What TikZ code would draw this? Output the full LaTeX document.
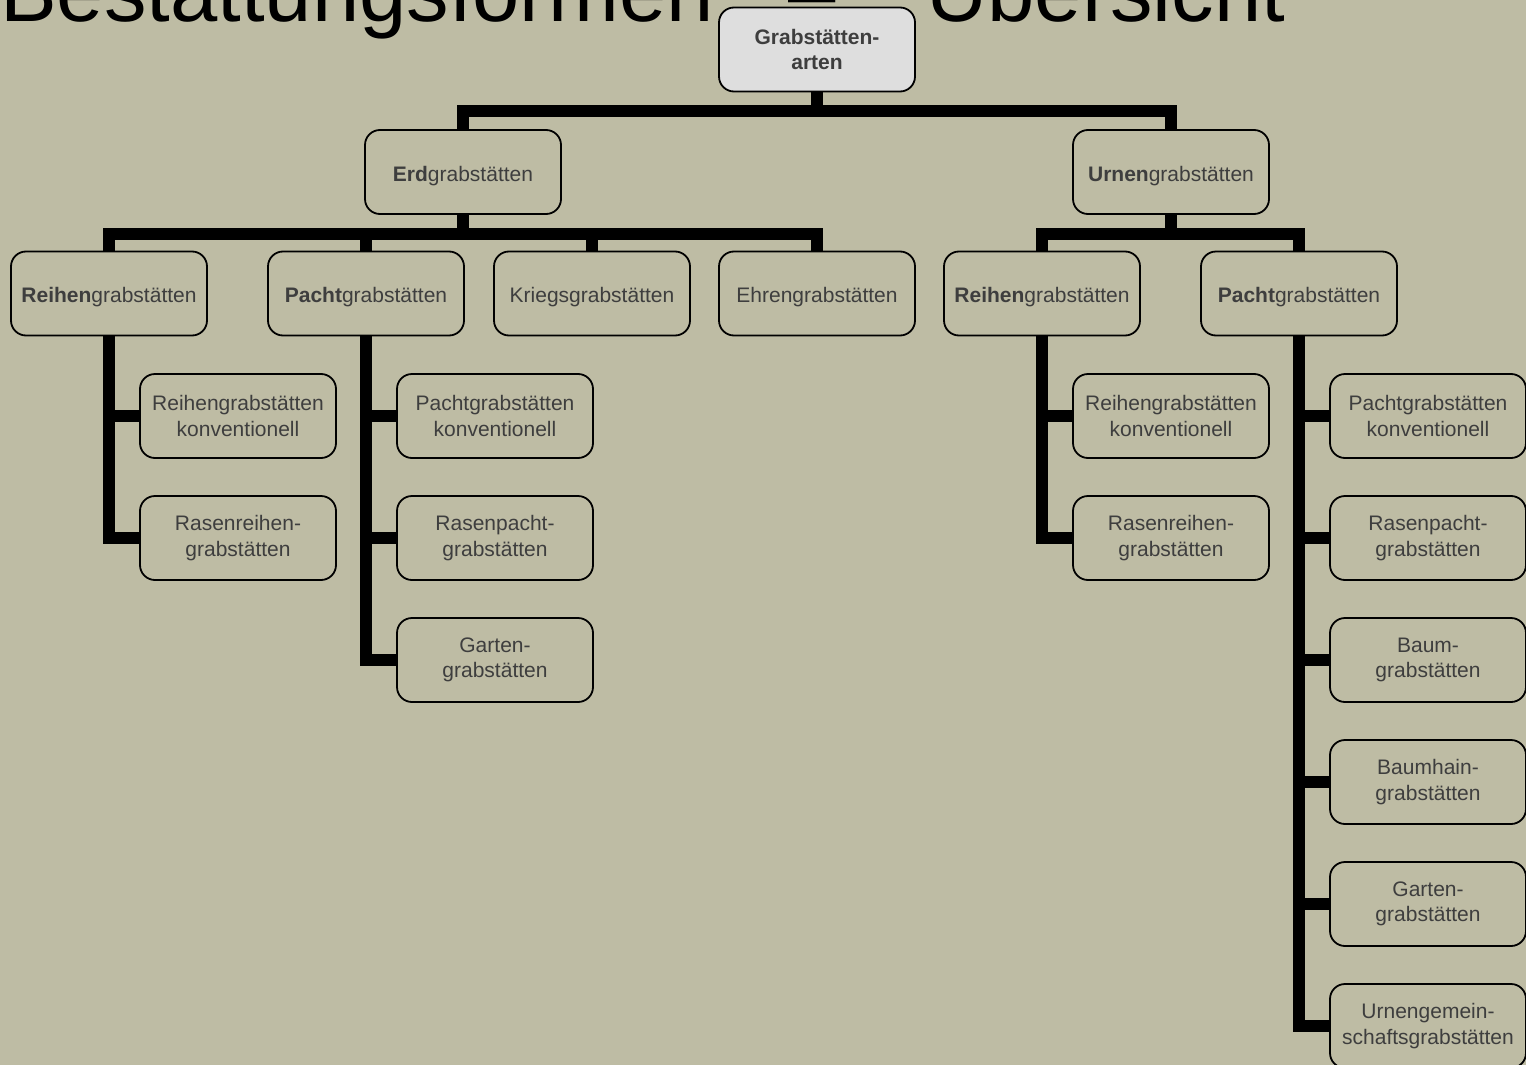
\documentclass[tikz,border=0pt]{standalone}
\usepackage{fontspec}
\setmainfont{Liberation Sans}
\definecolor{bgc}{RGB}{190,188,164}
\definecolor{txt}{RGB}{62,62,62}
\definecolor{topfill}{RGB}{222,222,222}
\begin{document}
\begin{tikzpicture}[x=1pt,y=-1pt,
  box/.style={draw=black, line width=1.8pt, rounded corners=15pt, minimum width=196pt, minimum height=84pt,
    text=txt, align=center, inner sep=2pt, font=\fontsize{21}{25.5}\selectfont},
  onebox/.style={box, text height=18.4pt, text depth=0pt},
  topbox/.style={box, fill=topfill, font=\fontsize{21}{25.5}\selectfont\bfseries},
  conn/.style={line width=12pt, draw=black, line join=miter},
  titletext/.style={inner sep=0pt, text=black, font=\fontsize{85}{90}\selectfont}]
\clip (0,0) rectangle (1526,1065);
\fill[bgc] (0,0) rectangle (1526,1065);
% title
\node[titletext, anchor=base west] (t1) at (0,22) {Bestattungsformen};
\node[titletext, anchor=base] (t2) at (812,22) {–};
\node[titletext, anchor=base west] (t3) at (926,22) {Übersicht};
% nodes
\node[topbox] (top) at (817,49.5) {Grabstätten-\\arten};
\node[onebox] (erd) at (463,172) {\textbf{Erd}grabstätten};
\node[onebox] (urn) at (1171,172) {\textbf{Urnen}grabstätten};
\node[onebox] (reiL) at (109,293.5) {\textbf{Reihen}grabstätten};
\node[onebox] (paL) at (366,293.5) {\textbf{Pacht}grabstätten};
\node[onebox] (krieg) at (592,293.5) {Kriegsgrabstätten};
\node[onebox] (ehren) at (817,293.5) {Ehrengrabstätten};
\node[onebox] (reiR) at (1042,293.5) {\textbf{Reihen}grabstätten};
\node[onebox] (paR) at (1299,293.5) {\textbf{Pacht}grabstätten};
% level 3 left Reihen
\node[box] (rl1) at (238,416) {Reihengrabstätten\\konventionell};
\node[box] (rl2) at (238,538) {Rasenreihen-\\grabstätten};
% level 3 left Pacht
\node[box] (pl1) at (495,416) {Pachtgrabstätten\\konventionell};
\node[box] (pl2) at (495,538) {Rasenpacht-\\grabstätten};
\node[box] (pl3) at (495,660) {Garten-\\grabstätten};
% level 3 right Reihen
\node[box] (rr1) at (1171,416) {Reihengrabstätten\\konventionell};
\node[box] (rr2) at (1171,538) {Rasenreihen-\\grabstätten};
% level 3 right Pacht
\node[box] (pr1) at (1428,416) {Pachtgrabstätten\\konventionell};
\node[box] (pr2) at (1428,538) {Rasenpacht-\\grabstätten};
\node[box] (pr3) at (1428,660) {Baum-\\grabstätten};
\node[box] (pr4) at (1428,782) {Baumhain-\\grabstätten};
\node[box] (pr5) at (1428,904) {Garten-\\grabstätten};
\node[box] (pr6) at (1428,1026) {Urnengemein-\\schaftsgrabstätten};
% connectors
\foreach \c in {erd,urn}{\draw[conn] (top.south) -- ++(0,19) -| (\c.north);}
\foreach \c in {reiL,paL,krieg,ehren}{\draw[conn] (erd.south) -- ++(0,19) -| (\c.north);}
\foreach \c in {reiR,paR}{\draw[conn] (urn.south) -- ++(0,19) -| (\c.north);}
\foreach \c in {rl1,rl2}{\draw[conn] (reiL.south) |- (\c.west);}
\foreach \c in {pl1,pl2,pl3}{\draw[conn] (paL.south) |- (\c.west);}
\foreach \c in {rr1,rr2}{\draw[conn] (reiR.south) |- (\c.west);}
\foreach \c in {pr1,pr2,pr3,pr4,pr5,pr6}{\draw[conn] (paR.south) |- (\c.west);}
\end{tikzpicture}
\end{document}
